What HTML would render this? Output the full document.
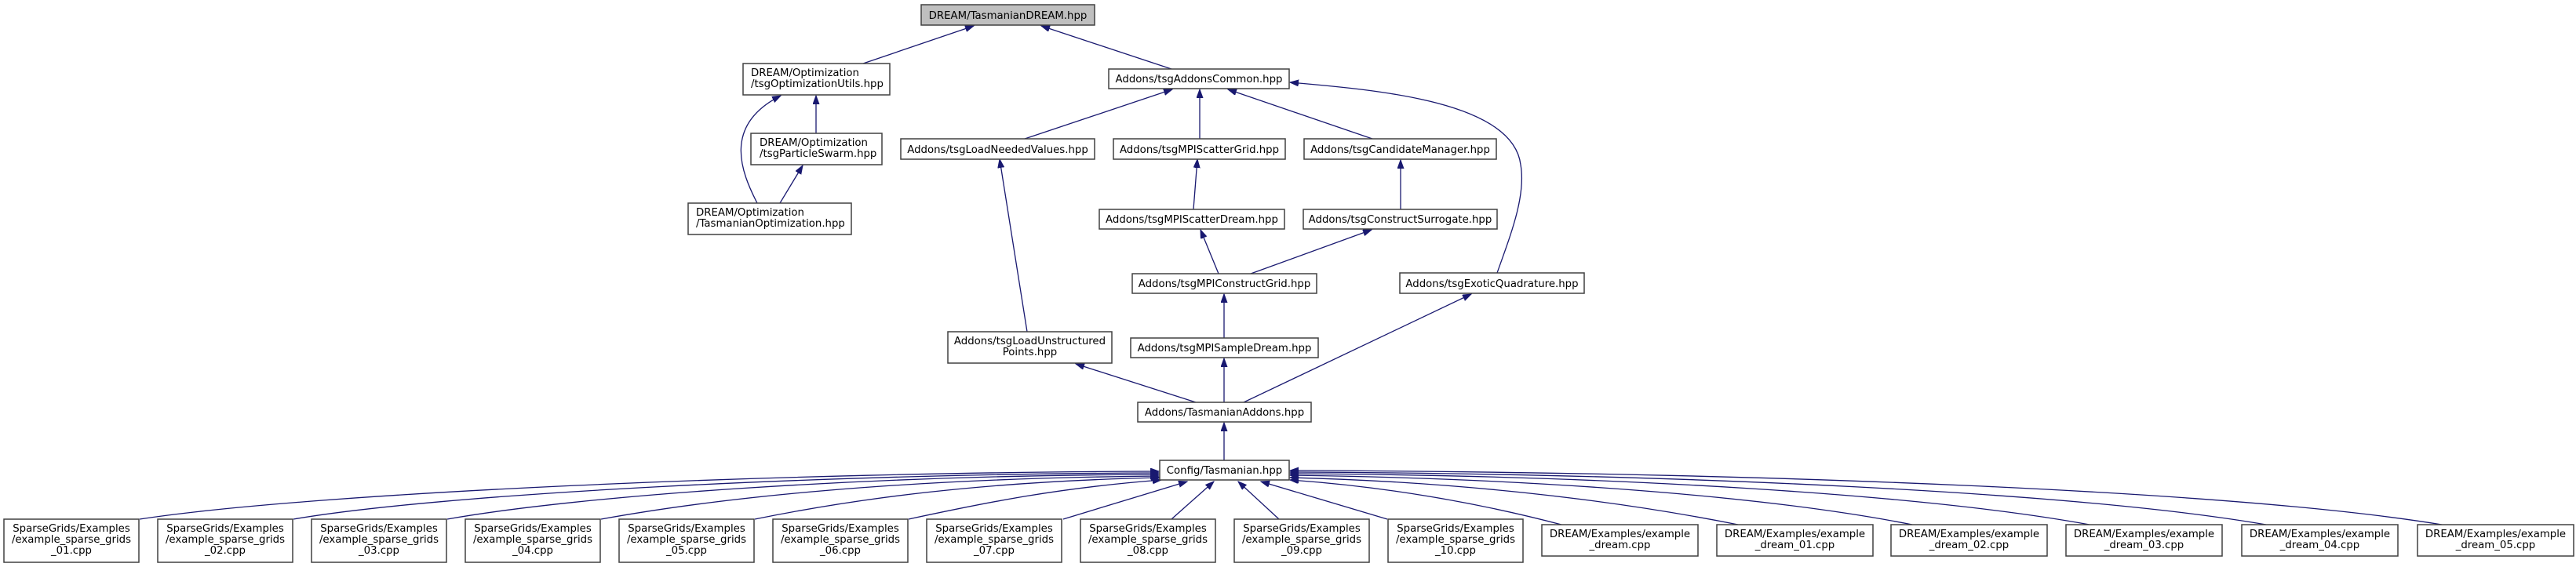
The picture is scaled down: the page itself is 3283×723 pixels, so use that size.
<!DOCTYPE html>
<html><head><meta charset="utf-8"><style>
html,body{margin:0;padding:0;background:#fff;}
svg{display:block;}
text{font-family:"DejaVu Sans","Liberation Sans",sans-serif;font-size:13.3px;fill:#000;}
.n{fill:#fff;stroke:#404040;stroke-width:1.5;}
.e{fill:none;stroke:#191970;stroke-width:1.3;}
</style></head><body>
<svg width="3283" height="723" viewBox="0 0 3283 723" xmlns="http://www.w3.org/2000/svg">
<defs>
<marker id="a" markerWidth="12" markerHeight="10" refX="11" refY="4" orient="auto" markerUnits="userSpaceOnUse">
<path d="M0,0 L11,4 L0,8 z" fill="#191970" stroke="#191970" stroke-width="1"/>
</marker>
</defs>

<!-- edges -->
<g class="e" marker-end="url(#a)">
<path d="M1100,81 L1241,33"/>
<path d="M1493,88 L1327,33"/>
<path d="M1040,170 L1040,122"/>
<path d="M965,259 C945,220 920,160 995,122"/>
<path d="M994,259 L1023,211"/>
<path d="M1306,177 L1494,114"/>
<path d="M1529,177 L1529,114"/>
<path d="M1749,177 L1565,114"/>
<path d="M1908,348 C1925,300 1945,250 1938,210 C1928,130 1760,115 1644,105"/>
<path d="M1309,423 L1274,203"/>
<path d="M1521,267 L1526,203"/>
<path d="M1785,267 L1785,204"/>
<path d="M1553,349 L1530,293"/>
<path d="M1594,349 L1748,293"/>
<path d="M1560,431 L1560,375"/>
<path d="M1524,513 L1371,464"/>
<path d="M1560,513 L1560,457"/>
<path d="M1585,513 L1875,375"/>
<path d="M1560,587 L1560,539"/>

<path d="M178,662 C400,628 1000,602 1477,601"/>
<path d="M374,662 C560,630 1050,604 1477,603"/>
<path d="M570,662 C740,632 1100,606 1477,605"/>
<path d="M766,662 C920,634 1150,610 1477,607"/>
<path d="M962,662 C1090,636 1250,614 1478,609"/>
<path d="M1158,662 C1260,640 1350,622 1480,612"/>
<path d="M1355,662 L1513,614"/>
<path d="M1493,662 L1547,614"/>
<path d="M1630,662 L1578,614"/>
<path d="M1768,662 L1607,614"/>

<path d="M1990,669 C1880,640 1760,620 1644,612"/>
<path d="M2215,669 C2050,636 1850,614 1644,609"/>
<path d="M2437,669 C2250,632 1950,610 1644,606"/>
<path d="M2663,669 C2450,630 2050,606 1644,604"/>
<path d="M2888,669 C2650,628 2150,604 1644,602"/>
<path d="M3112,669 C2850,626 2250,602 1644,600"/>
</g>

<!-- nodes -->
<rect x="1174" y="6" width="221" height="26" fill="#bfbfbf" stroke="#404040" stroke-width="1.5"/>
<text x="1284.5" y="24" text-anchor="middle">DREAM/TasmanianDREAM.hpp</text>

<rect class="n" x="947" y="81" width="187" height="40"/>
<text x="957" y="97">DREAM/Optimization</text><text x="957" y="111">/tsgOptimizationUtils.hpp</text>

<rect class="n" x="1413" y="88" width="230" height="25"/>
<text x="1528" y="105" text-anchor="middle">Addons/tsgAddonsCommon.hpp</text>

<rect class="n" x="957" y="170" width="167" height="40"/>
<text x="968" y="186">DREAM/Optimization</text><text x="968" y="200">/tsgParticleSwarm.hpp</text>

<rect class="n" x="877" y="259" width="208" height="40"/>
<text x="887" y="275">DREAM/Optimization</text><text x="887" y="289">/TasmanianOptimization.hpp</text>

<rect class="n" x="1148" y="177" width="247" height="26"/>
<text x="1271.5" y="195" text-anchor="middle">Addons/tsgLoadNeededValues.hpp</text>

<rect class="n" x="1419" y="177" width="219" height="26"/>
<text x="1528.5" y="195" text-anchor="middle">Addons/tsgMPIScatterGrid.hpp</text>

<rect class="n" x="1662" y="177" width="245" height="26"/>
<text x="1784.5" y="195" text-anchor="middle">Addons/tsgCandidateManager.hpp</text>

<rect class="n" x="1401" y="267" width="236" height="25"/>
<text x="1519" y="284" text-anchor="middle">Addons/tsgMPIScatterDream.hpp</text>

<rect class="n" x="1661" y="267" width="247" height="25"/>
<text x="1784.5" y="284" text-anchor="middle">Addons/tsgConstructSurrogate.hpp</text>

<rect class="n" x="1443" y="349" width="235" height="25"/>
<text x="1560.5" y="366" text-anchor="middle">Addons/tsgMPIConstructGrid.hpp</text>

<rect class="n" x="1784" y="348" width="235" height="26"/>
<text x="1901.5" y="366" text-anchor="middle">Addons/tsgExoticQuadrature.hpp</text>

<rect class="n" x="1208" y="423" width="209" height="40"/>
<text x="1312.5" y="439" text-anchor="middle">Addons/tsgLoadUnstructured</text><text x="1312.5" y="453" text-anchor="middle">Points.hpp</text>

<rect class="n" x="1441" y="431" width="239" height="25"/>
<text x="1560.5" y="448" text-anchor="middle">Addons/tsgMPISampleDream.hpp</text>

<rect class="n" x="1450" y="513" width="221" height="25"/>
<text x="1560.5" y="530" text-anchor="middle">Addons/TasmanianAddons.hpp</text>

<rect class="n" x="1478" y="587" width="165" height="25"/>
<text x="1560.5" y="604" text-anchor="middle">Config/Tasmanian.hpp</text>

<!-- sparse grid examples -->
<g>
<rect class="n" x="5" y="662" width="172" height="55"/><text x="91" y="678" text-anchor="middle">SparseGrids/Examples</text><text x="91" y="692" text-anchor="middle">/example_sparse_grids</text><text x="91" y="706" text-anchor="middle">_01.cpp</text>
<rect class="n" x="201" y="662" width="172" height="55"/><text x="287" y="678" text-anchor="middle">SparseGrids/Examples</text><text x="287" y="692" text-anchor="middle">/example_sparse_grids</text><text x="287" y="706" text-anchor="middle">_02.cpp</text>
<rect class="n" x="397" y="662" width="172" height="55"/><text x="483" y="678" text-anchor="middle">SparseGrids/Examples</text><text x="483" y="692" text-anchor="middle">/example_sparse_grids</text><text x="483" y="706" text-anchor="middle">_03.cpp</text>
<rect class="n" x="593" y="662" width="172" height="55"/><text x="679" y="678" text-anchor="middle">SparseGrids/Examples</text><text x="679" y="692" text-anchor="middle">/example_sparse_grids</text><text x="679" y="706" text-anchor="middle">_04.cpp</text>
<rect class="n" x="789" y="662" width="172" height="55"/><text x="875" y="678" text-anchor="middle">SparseGrids/Examples</text><text x="875" y="692" text-anchor="middle">/example_sparse_grids</text><text x="875" y="706" text-anchor="middle">_05.cpp</text>
<rect class="n" x="985" y="662" width="172" height="55"/><text x="1071" y="678" text-anchor="middle">SparseGrids/Examples</text><text x="1071" y="692" text-anchor="middle">/example_sparse_grids</text><text x="1071" y="706" text-anchor="middle">_06.cpp</text>
<rect class="n" x="1181" y="662" width="172" height="55"/><text x="1267" y="678" text-anchor="middle">SparseGrids/Examples</text><text x="1267" y="692" text-anchor="middle">/example_sparse_grids</text><text x="1267" y="706" text-anchor="middle">_07.cpp</text>
<rect class="n" x="1377" y="662" width="172" height="55"/><text x="1463" y="678" text-anchor="middle">SparseGrids/Examples</text><text x="1463" y="692" text-anchor="middle">/example_sparse_grids</text><text x="1463" y="706" text-anchor="middle">_08.cpp</text>
<rect class="n" x="1573" y="662" width="172" height="55"/><text x="1659" y="678" text-anchor="middle">SparseGrids/Examples</text><text x="1659" y="692" text-anchor="middle">/example_sparse_grids</text><text x="1659" y="706" text-anchor="middle">_09.cpp</text>
<rect class="n" x="1769" y="662" width="172" height="55"/><text x="1855" y="678" text-anchor="middle">SparseGrids/Examples</text><text x="1855" y="692" text-anchor="middle">/example_sparse_grids</text><text x="1855" y="706" text-anchor="middle">_10.cpp</text>
</g>

<!-- dream examples -->
<g>
<rect class="n" x="1965" y="669" width="199" height="40"/><text x="2064.5" y="685" text-anchor="middle">DREAM/Examples/example</text><text x="2064.5" y="699" text-anchor="middle">_dream.cpp</text>
<rect class="n" x="2188" y="669" width="199" height="40"/><text x="2287.5" y="685" text-anchor="middle">DREAM/Examples/example</text><text x="2287.5" y="699" text-anchor="middle">_dream_01.cpp</text>
<rect class="n" x="2410" y="669" width="199" height="40"/><text x="2509.5" y="685" text-anchor="middle">DREAM/Examples/example</text><text x="2509.5" y="699" text-anchor="middle">_dream_02.cpp</text>
<rect class="n" x="2633" y="669" width="199" height="40"/><text x="2732.5" y="685" text-anchor="middle">DREAM/Examples/example</text><text x="2732.5" y="699" text-anchor="middle">_dream_03.cpp</text>
<rect class="n" x="2857" y="669" width="199" height="40"/><text x="2956.5" y="685" text-anchor="middle">DREAM/Examples/example</text><text x="2956.5" y="699" text-anchor="middle">_dream_04.cpp</text>
<rect class="n" x="3081" y="669" width="199" height="40"/><text x="3180.5" y="685" text-anchor="middle">DREAM/Examples/example</text><text x="3180.5" y="699" text-anchor="middle">_dream_05.cpp</text>
</g>
</svg>
</body></html>
